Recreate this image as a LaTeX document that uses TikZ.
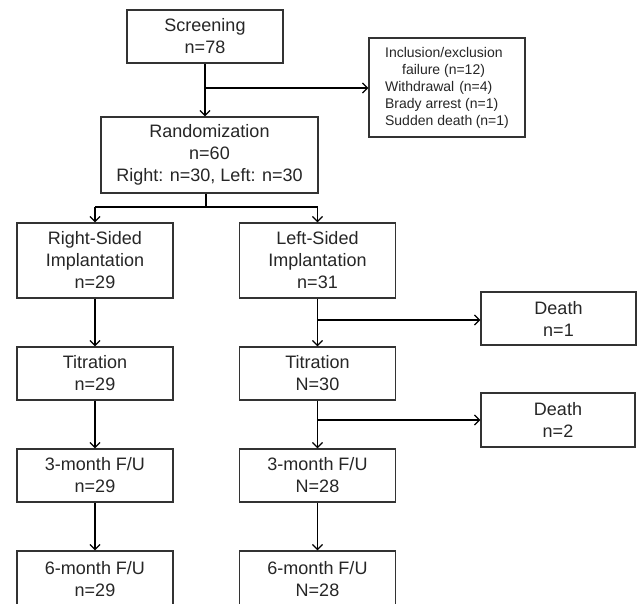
\documentclass[tikz,border=0pt]{standalone}
\usepackage{fontspec}
\setmainfont{Liberation Sans}
\usetikzlibrary{arrows.meta}
\begin{document}
\begin{tikzpicture}[x=1pt,y=-1pt,
  box/.style={draw=black!80, line width=1.2pt, fill=white, minimum width=156pt, inner sep=0pt,
    align=center, font=\fontsize{18}{22}\selectfont, text=black!85},
  conn/.style={draw=black, line width=1.3pt},
  arr/.style={conn, -{Straight Barb[length=5pt,width=10pt,line width=1.3pt]}}]
\useasboundingbox (0,0) rectangle (637,603);
\fill[white] (0,0) rectangle (637,603);
\node[box, minimum height=53pt] (screen) at (205,36.5) {Screening\\n=78};
\node[box, minimum width=156pt, minimum height=99pt, align=left, font=\fontsize{14}{17}\selectfont] (excl) at (447,87.5)
  {Inclusion/exclusion\\\hspace*{17pt}failure (n=12)\\Withdrawal\hspace{0.35em}(n=4)\\Brady arrest (n=1)\\Sudden death\hspace{0.25em}(n=1)};
\node[box, minimum width=217pt, minimum height=76pt] (rand) at (209.5,155) {Randomization\\n=60\\Right: n=30, Left: n=30};
\node[box, minimum height=75pt] (rimp) at (95,260.5) {Right-Sided\\Implantation\\n=29};
\node[box, minimum height=75pt] (limp) at (317.5,260.5) {Left-Sided\\Implantation\\n=31};
\node[box, minimum height=53pt] (rtit) at (95,373.5) {Titration\\n=29};
\node[box, minimum height=53pt] (ltit) at (317.5,373.5) {Titration\\N=30};
\node[box, minimum height=53pt] (r3) at (95,475.5) {3-month F/U\\n=29};
\node[box, minimum height=53pt] (l3) at (317.5,475.5) {3-month F/U\\N=28};
\node[box, minimum height=56pt] (r6) at (95,579) {6-month F/U\\n=29};
\node[box, minimum height=56pt] (l6) at (317.5,579) {6-month F/U\\N=28};
\node[box, minimum width=155pt, minimum height=53pt] (d1) at (558.5,318.5) {Death\\n=1};
\node[box, minimum width=154pt, minimum height=54pt] (d2) at (558,420) {Death\\n=2};
% connectors
\coordinate (c1) at (205,88);
\draw[arr] (screen.south) -- (screen.south |- rand.north);
\draw[arr] (c1) -- (excl.west |- c1);
\coordinate (c2) at (206,207);
\draw[conn] (c2 |- rand.south) -- (c2);
\draw[conn] (rimp.north |- c2) -- (limp.north |- c2);
\draw[arr] (rimp.north |- c2) -- (rimp.north);
\draw[arr] (limp.north |- c2) -- (limp.north);
\draw[arr] (rimp.south) -- (rtit.north);
\draw[arr] (limp.south) -- (ltit.north);
\draw[arr] (rtit.south) -- (r3.north);
\draw[arr] (ltit.south) -- (l3.north);
\draw[arr] (r3.south) -- (r6.north);
\draw[arr] (l3.south) -- (l6.north);
\coordinate (c3) at (317.5,320);
\draw[arr] (c3) -- (d1.west |- c3);
\coordinate (c4) at (317.5,420);
\draw[arr] (c4) -- (d2.west |- c4);
\end{tikzpicture}
\end{document}
